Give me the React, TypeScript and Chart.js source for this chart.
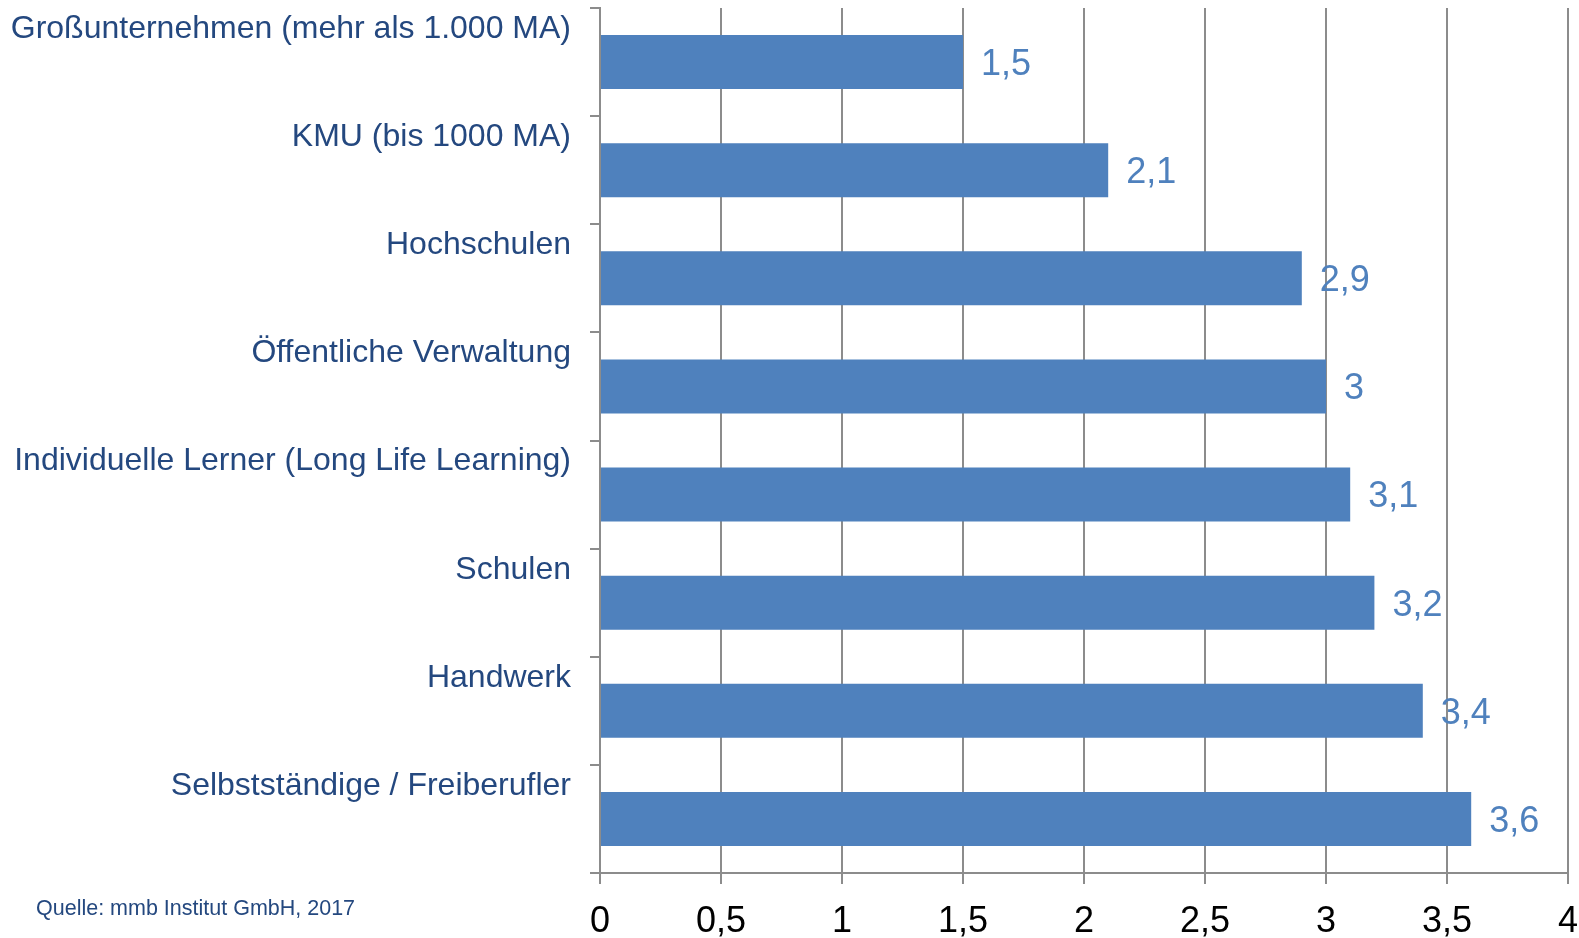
import React, { useEffect, useRef } from "react";
import { Chart, registerables } from "chart.js";

Chart.register(...registerables);

const categories = [
  "Großunternehmen (mehr als 1.000 MA)",
  "KMU (bis 1000 MA)",
  "Hochschulen",
  "Öffentliche Verwaltung",
  "Individuelle Lerner (Long Life Learning)",
  "Schulen",
  "Handwerk",
  "Selbstständige / Freiberufler",
];
const values = [1.5, 2.1, 2.9, 3.0, 3.1, 3.2, 3.4, 3.6];
const xMin = 0;
const xMax = 4;
const xStep = 0.5;
const sourceNote = "Quelle: mmb Institut GmbH, 2017";

const FONT = "'Liberation Sans', Arial, sans-serif";
const BAR_COLOR = "#4F81BD";
const LABEL_COLOR = "#24487F";
const GRID_COLOR = "#8C8C8C";

const fmt = (v: number) => String(v).replace(".", ",");

const valueLabels = {
  id: "valueLabels",
  afterDatasetsDraw(chart: any) {
    const ctx = chart.ctx;
    const meta = chart.getDatasetMeta(0);
    ctx.save();
    ctx.font = `36px ${FONT}`;
    ctx.fillStyle = BAR_COLOR;
    ctx.textAlign = "left";
    ctx.textBaseline = "middle";
    meta.data.forEach((bar: any, i: number) => {
      ctx.fillText(fmt(values[i]), bar.x + 18, bar.y + 3);
    });
    ctx.restore();
  },
};

export default function App() {
  const canvasRef = useRef<HTMLCanvasElement | null>(null);

  useEffect(() => {
    if (!canvasRef.current) return;
    const chart = new Chart(canvasRef.current, {
      type: "bar",
      data: {
        labels: categories,
        datasets: [
          {
            data: values,
            backgroundColor: BAR_COLOR,
            borderWidth: 0,
            categoryPercentage: 1,
            barPercentage: 0.5,
          },
        ],
      },
      plugins: [valueLabels],
      options: {
        indexAxis: "y",
        animation: false,
        responsive: true,
        maintainAspectRatio: false,
        layout: { padding: { top: 8, right: 11, left: 0, bottom: 0 } },
        plugins: {
          legend: { display: false },
          tooltip: { enabled: false },
        },
        scales: {
          x: {
            min: xMin,
            max: xMax,
            ticks: {
              stepSize: xStep,
              color: "#000000",
              font: { family: FONT, size: 36 },
              padding: 16,
              callback: (v: any) => fmt(Number(v)),
            },
            grid: {
              color: GRID_COLOR,
              lineWidth: 2,
              drawTicks: true,
              tickLength: 11,
              tickColor: GRID_COLOR,
            },
            border: { display: true, color: GRID_COLOR, width: 2 },
            afterFit: (scale: any) => {
              scale.height = 65;
              scale.paddingLeft = 0;
              scale.paddingRight = 0;
            },
          },
          y: {
            ticks: {
              color: LABEL_COLOR,
              font: { family: FONT, size: 32 },
              padding: 19,
              labelOffset: -33,
              autoSkip: false,
            },
            grid: {
              offset: true,
              drawOnChartArea: false,
              drawTicks: true,
              tickLength: 10,
              color: GRID_COLOR,
              lineWidth: 2,
            },
            border: { display: true, color: GRID_COLOR, width: 2 },
            afterFit: (scale: any) => {
              scale.width = 600;
              scale.paddingTop = 0;
              scale.paddingBottom = 0;
            },
          },
        },
      },
    });
    return () => chart.destroy();
  }, []);

  return (
    <div
      style={{
        position: "fixed",
        left: 0,
        top: 0,
        width: 1579,
        height: 938,
        background: "#ffffff",
      }}
    >
      <canvas ref={canvasRef} />
      <div
        style={{
          position: "absolute",
          left: 36,
          top: 895,
          fontFamily: FONT,
          fontSize: 21.5,
          lineHeight: "26px",
          color: LABEL_COLOR,
          whiteSpace: "nowrap",
        }}
      >
        {sourceNote}
      </div>
    </div>
  );
}
